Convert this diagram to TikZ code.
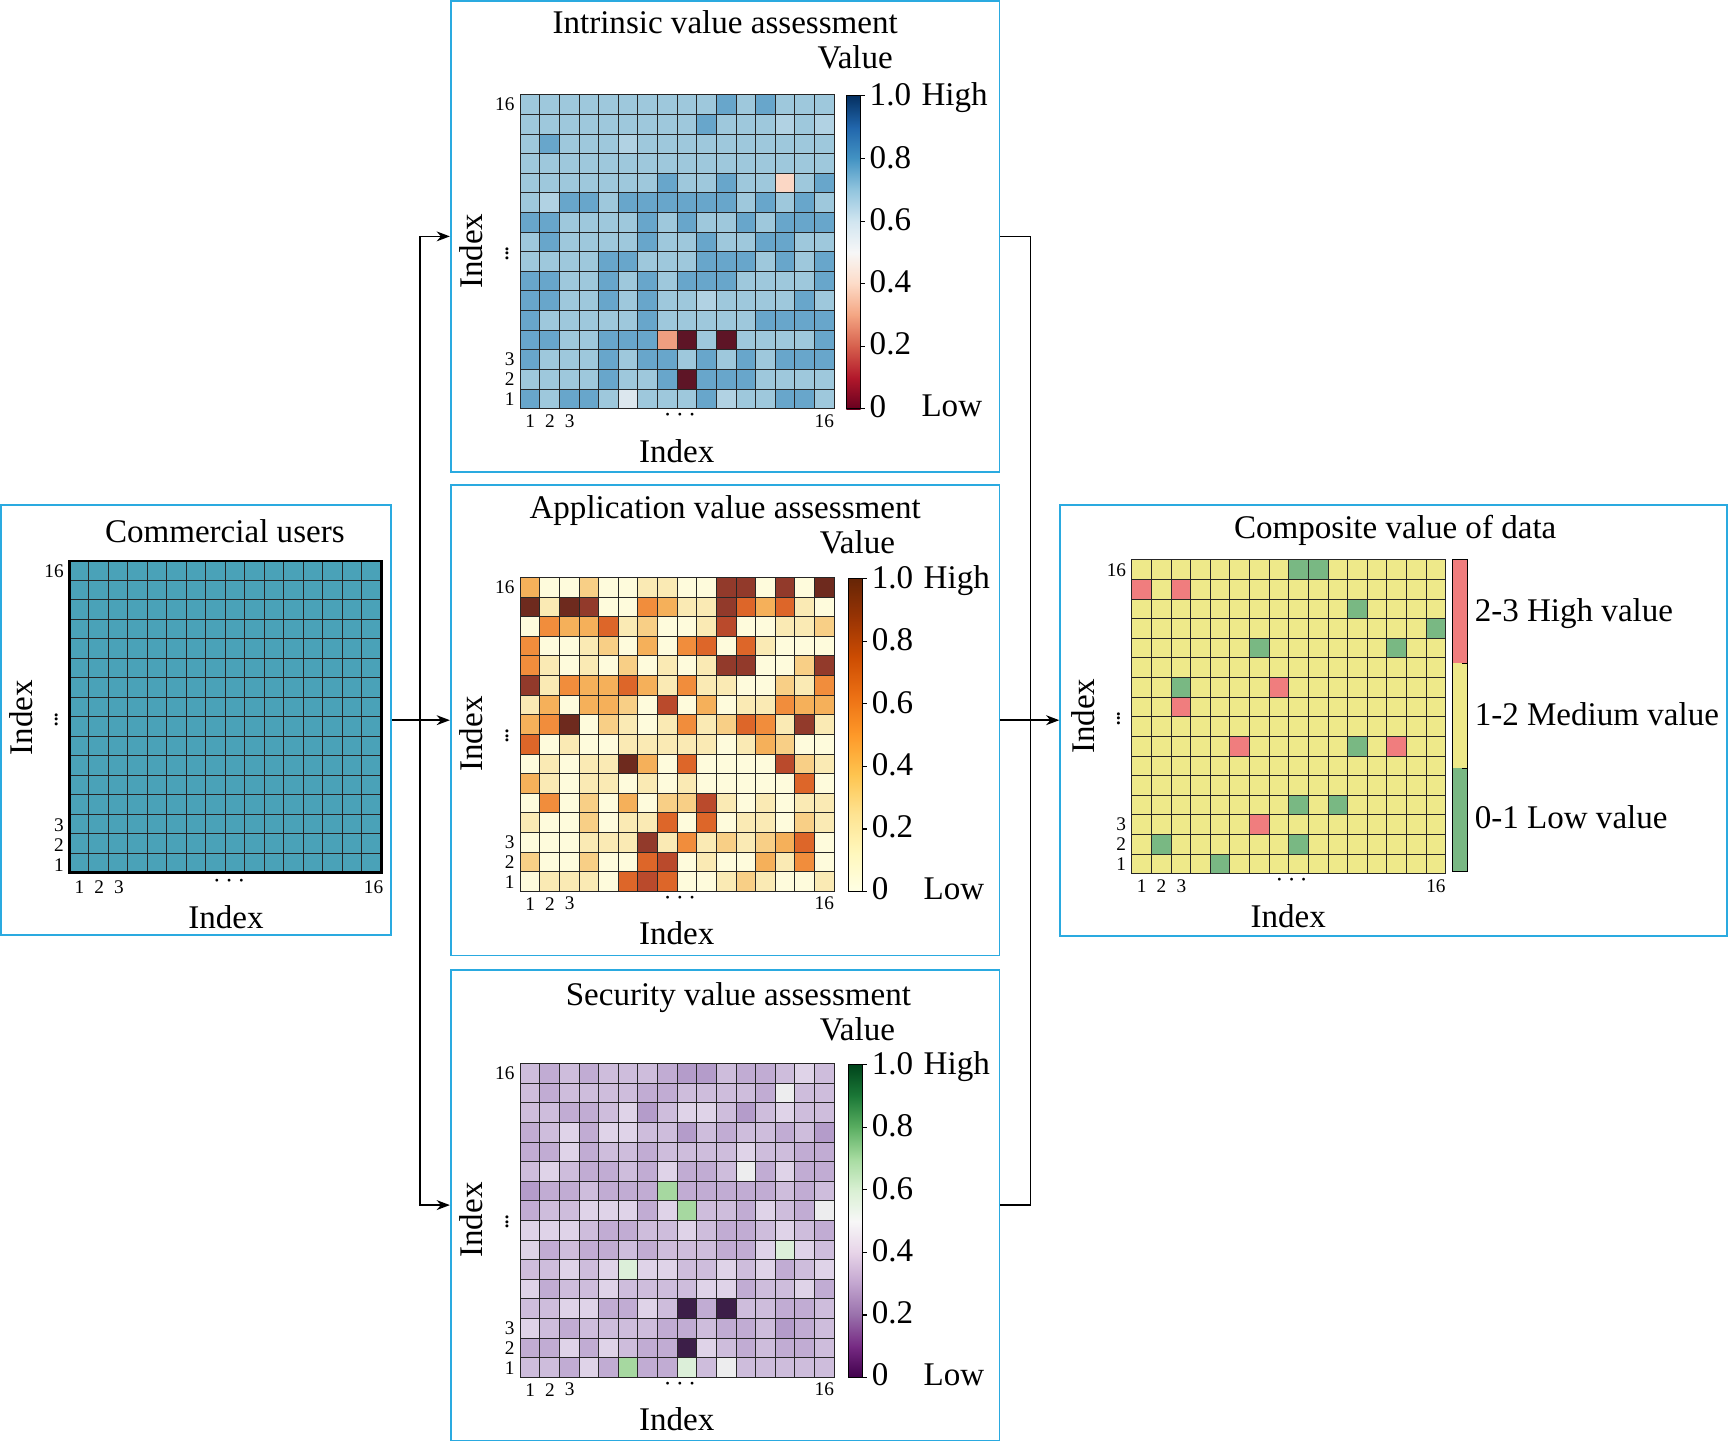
\documentclass[tikz,border=0pt]{standalone}
\usepackage{fontspec}
\setmainfont{Liberation Serif}
\usetikzlibrary{arrows.meta}

\definecolor{panelblue}{HTML}{2AAAE0}
\definecolor{commblue}{HTML}{4AA2B8}
% intrinsic cells
\definecolor{inL}{HTML}{9EC8DC}\definecolor{inM}{HTML}{68A6CB}\definecolor{inl}{HTML}{B1D2E3}
\definecolor{inW}{HTML}{DCE7EE}\definecolor{inP}{HTML}{FBD7C5}\definecolor{inO}{HTML}{EE9E80}
\definecolor{inD}{HTML}{5E1526}
% application cells
\definecolor{ap0}{HTML}{FEFBDC}\definecolor{ap1}{HTML}{FAEAB4}\definecolor{ap2}{HTML}{F8CF86}
\definecolor{ap3}{HTML}{F5B05A}\definecolor{ap4}{HTML}{F18D3C}\definecolor{ap5}{HTML}{DD6629}
\definecolor{ap6}{HTML}{BA4A2C}\definecolor{ap7}{HTML}{923A2B}\definecolor{ap8}{HTML}{6E2A1E}
% security cells
\definecolor{se0}{HTML}{DFD3E8}\definecolor{se1}{HTML}{CEBDDC}\definecolor{se2}{HTML}{C1ACD3}
\definecolor{se3}{HTML}{B49CCA}\definecolor{seW}{HTML}{EDEDEE}\definecolor{seg}{HTML}{DCEFD9}
\definecolor{seG}{HTML}{A6D8A0}\definecolor{seD}{HTML}{3C1E48}
% composite cells
\definecolor{coY}{HTML}{EEE98A}\definecolor{coR}{HTML}{F07D7E}\definecolor{coG}{HTML}{79B883}
% colour bar stops
\definecolor{rb0}{HTML}{67001F}\definecolor{rb1}{HTML}{B2182B}\definecolor{rb2}{HTML}{D6604D}
\definecolor{rb3}{HTML}{F4A582}\definecolor{rb4}{HTML}{FDDBC7}\definecolor{rb5}{HTML}{F7F7F7}
\definecolor{rb6}{HTML}{D1E5F0}\definecolor{rb7}{HTML}{92C5DE}\definecolor{rb8}{HTML}{4393C3}
\definecolor{rb9}{HTML}{2166AC}\definecolor{rb10}{HTML}{053061}
\definecolor{yb0}{HTML}{FFFFE5}\definecolor{yb1}{HTML}{FFF7BC}\definecolor{yb2}{HTML}{FEE391}
\definecolor{yb3}{HTML}{FEC44F}\definecolor{yb4}{HTML}{FE9929}\definecolor{yb5}{HTML}{EC7014}
\definecolor{yb6}{HTML}{CC4C02}\definecolor{yb7}{HTML}{993404}\definecolor{yb8}{HTML}{662506}
\definecolor{pg0}{HTML}{40004B}\definecolor{pg1}{HTML}{762A83}\definecolor{pg2}{HTML}{9970AB}
\definecolor{pg3}{HTML}{C2A5CF}\definecolor{pg4}{HTML}{E7D4E8}\definecolor{pg5}{HTML}{F7F7F7}
\definecolor{pg6}{HTML}{D9F0D3}\definecolor{pg7}{HTML}{A6DBA0}\definecolor{pg8}{HTML}{5AAE61}
\definecolor{pg9}{HTML}{1B7837}\definecolor{pg10}{HTML}{00441B}

% 16x16 heat map: top-left x, top-left y, colour prefix, rows (top row first)
\newcommand{\heatmap}[4]{%
  \foreach \hrow [count=\hr] in {#4} {
    \foreach \hc [count=\hk] in \hrow {
      \filldraw[cell, fill=#3\hc] ({#1+(\hk-1)*17.8},{#2+(\hr-1)*17.8}) rectangle ++(17.8,17.8);
    }
  }
}
% tick labels round a grid whose top-left corner is (#1,#2)
\newcommand{\gridticks}[2]{%
  \node[ticklab, anchor=east] at (#1-5,#2+9) {16};
  \node[dotlab] at (#1-12,#2+141) {$\vdots$};
  \node[ticklab, anchor=east] at (#1-5,#2+240) {3};
  \node[ticklab, anchor=east] at (#1-5,#2+258) {2};
  \node[ticklab, anchor=east] at (#1-5,#2+276) {1};
  \node[ticklab] at (#1+9,#2+296) {1};
  \node[ticklab] at (#1+27,#2+296) {2};
  \node[ticklab] at (#1+45,#2+296) {3};
  \node[dotlab] at (#1+145,#2+291) {$\cdots$};
  \node[ticklab] at (#1+276,#2+296) {16};
  \node[axlab] at (#1+142,#2+323) {Index};
  \node[axlab, rotate=90] at (#1-44,#2+142) {Index};
}
% colour bar: x, top y, number of segments, colour pairs (low to high)
\newcommand{\cbar}[4]{%
  \foreach \ca/\cb [count=\ci] in {#4} {
    \shade[bottom color=\ca, top color=\cb] (#1,{#2+284-\ci*284/#3}) rectangle (#1+13,{#2+284-(\ci-1)*284/#3+0.3});
  }
  \draw[cbframe] (#1,#2) rectangle (#1+13,#2+284);
  \foreach \v [count=\k from 0] in {1.0,0.8,0.6,0.4,0.2,0} {
    \draw[cbframe] (#1+13,#2+\k*56.8) -- ++(4,0);
    \node[cblab, anchor=west] at (#1+21,#2-1+\k*56.5) {\v};
  }
  \node[cblab, anchor=west] at (#1+68,#2-1) {High};
  \node[cblab, anchor=west] at (#1+68,#2+281) {Low};
}

\begin{document}
\begin{tikzpicture}[x=1pt, y=-1pt,
    panel/.style={draw=panelblue, line width=1.6pt, inner sep=0pt},
    cell/.style={draw=black!85, line width=0.8pt},
    heading/.style={font=\fontsize{30}{34}\selectfont, inner sep=0pt},
    axlab/.style={font=\fontsize{30}{34}\selectfont, inner sep=0pt},
    ticklab/.style={font=\fontsize{17.5}{20}\selectfont, inner sep=0pt},
    dotlab/.style={font=\fontsize{23}{26}\selectfont, inner sep=0pt},
    cblab/.style={font=\fontsize{30}{34}\selectfont, inner sep=0pt, text height=20pt, text depth=0pt},
    cbframe/.style={draw=black, line width=1pt},
    arrow/.style={-{Stealth[length=12pt, width=9pt]}, line width=1.3pt},
    link/.style={line width=1.3pt}
  ]
  \useasboundingbox (0,0) rectangle (1568,1308);

  % panels
  \node[panel, minimum width=354pt, minimum height=390pt] (users) at (178,653.5) {};
  \node[panel, minimum width=498pt, minimum height=427pt] (intr) at (658,214.5) {};
  \node[panel, minimum width=498pt, minimum height=427pt] (appl) at (658,653.5) {};
  \node[panel, minimum width=498pt, minimum height=427pt] (secu) at (658,1093.5) {};
  \node[panel, minimum width=605pt, minimum height=391pt] (comp) at (1264.5,653.5) {};

  % commercial users
  \node[heading] at (204,482) {Commercial users};
  \fill[commblue] (63,509) rectangle (346,792);
  \foreach \i in {1,...,15} {
    \draw[cell] (63+\i*17.69,509) -- (63+\i*17.69,792);
    \draw[cell] (63,509+\i*17.69) -- (346,509+\i*17.69);
  }
  \draw[line width=2.6pt] (63,509) rectangle (346,792);
  \gridticks{63}{509}

  % intrinsic value
  \node[heading] at (658,20) {Intrinsic value assessment};
  \node[heading] at (776,52) {Value};
  \heatmap{472}{86}{in}{
    {L,L,L,L,L,L,L,L,L,L,M,L,M,L,L,L},
    {L,L,L,L,L,L,L,L,L,M,L,L,L,l,L,l},
    {L,M,L,L,L,l,L,L,L,L,L,L,L,L,L,L},
    {L,L,L,L,L,L,L,L,L,L,L,L,L,L,L,L},
    {L,L,L,L,L,L,L,M,L,L,M,L,L,P,L,M},
    {L,l,M,M,L,M,M,M,M,M,M,L,M,L,M,L},
    {M,M,L,L,L,L,M,L,M,L,L,M,L,M,M,M},
    {L,M,L,L,L,L,M,L,L,M,L,L,M,M,L,L},
    {L,L,L,L,M,M,L,L,L,M,M,M,L,M,L,M},
    {M,M,L,L,M,L,M,L,M,M,M,L,L,L,L,M},
    {M,M,L,L,M,L,M,L,L,l,L,L,L,L,M,L},
    {M,L,L,L,L,L,M,L,L,L,L,L,M,M,M,M},
    {M,M,L,L,M,M,M,O,D,L,D,L,L,L,L,M},
    {M,L,L,L,M,L,M,M,L,M,L,M,L,M,M,M},
    {L,L,L,L,M,L,L,M,D,M,M,M,L,L,L,L},
    {M,L,M,M,L,W,L,L,L,M,l,L,L,M,M,L}}
  \gridticks{472}{86}
  \cbar{768}{87}{10}{rb0/rb1,rb1/rb2,rb2/rb3,rb3/rb4,rb4/rb5,rb5/rb6,rb6/rb7,rb7/rb8,rb8/rb9,rb9/rb10}

  % application value
  \node[heading] at (658,463) {Application value assessment};
  \node[heading] at (778,492) {Value};
  \heatmap{472}{524}{ap}{
    {3,0,0,2,0,0,1,1,0,0,7,7,0,7,0,8},
    {8,1,8,7,0,0,4,3,1,1,7,5,3,5,1,0},
    {0,4,3,3,5,1,2,0,0,1,6,0,0,1,1,2},
    {4,0,0,1,2,0,3,0,4,5,0,5,1,0,0,0},
    {4,1,0,1,0,2,0,1,0,1,7,7,0,0,2,7},
    {7,1,4,3,3,5,3,1,4,1,1,0,0,2,1,4},
    {1,3,0,3,3,2,0,6,0,3,0,1,1,4,3,3},
    {3,4,8,0,2,1,0,1,4,1,2,5,4,1,7,1},
    {5,0,1,0,0,1,1,1,1,1,0,1,3,2,0,0},
    {0,1,0,1,1,8,3,0,5,0,0,0,0,6,2,1},
    {3,1,0,1,1,0,1,0,1,0,0,0,0,0,5,0},
    {0,4,0,2,0,3,0,2,2,6,1,0,1,0,1,1},
    {1,0,0,2,0,1,1,5,0,5,0,1,1,0,2,1},
    {0,0,0,1,1,1,7,1,4,1,2,1,2,3,5,0},
    {2,0,0,2,0,0,5,6,0,1,0,0,3,1,4,0},
    {0,1,1,1,0,5,6,5,0,0,1,2,1,0,0,1}}
  \gridticks{472}{524}
  \cbar{770}{525}{8}{yb0/yb1,yb1/yb2,yb2/yb3,yb3/yb4,yb4/yb5,yb5/yb6,yb6/yb7,yb7/yb8}

  % security value
  \node[heading] at (670,905) {Security value assessment};
  \node[heading] at (778,934) {Value};
  \heatmap{472}{965}{se}{
    {1,2,1,2,1,1,1,2,3,3,1,2,2,1,0,1},
    {1,2,1,1,1,1,2,2,1,1,1,1,2,W,1,1},
    {1,1,2,2,1,0,3,1,0,0,1,3,1,0,1,1},
    {2,1,0,2,0,0,1,1,3,1,2,1,1,2,1,3},
    {2,2,0,2,1,1,2,1,1,1,1,0,1,1,2,2},
    {1,0,1,2,2,1,2,0,2,2,1,W,2,0,2,2},
    {3,2,2,1,2,2,2,G,2,2,2,2,2,1,2,1},
    {2,1,1,0,0,0,2,0,G,1,1,2,0,1,2,W},
    {0,0,0,1,2,2,1,1,0,1,2,2,1,0,1,2},
    {0,2,1,2,2,1,2,1,1,1,2,2,0,g,0,1},
    {1,1,0,1,0,g,0,0,1,1,0,1,0,2,1,0},
    {0,2,1,1,0,1,1,1,1,0,0,2,1,1,0,2},
    {1,1,0,0,2,2,0,1,D,2,D,1,1,2,2,1},
    {0,1,2,1,1,1,1,2,2,1,2,2,1,3,2,1},
    {2,2,0,2,0,1,2,2,D,0,1,2,1,2,2,1},
    {1,1,2,0,2,G,2,2,g,1,W,1,1,1,1,1}}
  \gridticks{472}{965}
  \cbar{770}{966}{10}{pg0/pg1,pg1/pg2,pg2/pg3,pg3/pg4,pg4/pg5,pg5/pg6,pg6/pg7,pg7/pg8,pg8/pg9,pg9/pg10}

  % composite value
  \node[heading] at (1266,481) {Composite value of data};
  \heatmap{1027}{508}{co}{
    {Y,Y,Y,Y,Y,Y,Y,Y,G,G,Y,Y,Y,Y,Y,Y},
    {R,Y,R,Y,Y,Y,Y,Y,Y,Y,Y,Y,Y,Y,Y,Y},
    {Y,Y,Y,Y,Y,Y,Y,Y,Y,Y,Y,G,Y,Y,Y,Y},
    {Y,Y,Y,Y,Y,Y,Y,Y,Y,Y,Y,Y,Y,Y,Y,G},
    {Y,Y,Y,Y,Y,Y,G,Y,Y,Y,Y,Y,Y,G,Y,Y},
    {Y,Y,Y,Y,Y,Y,Y,Y,Y,Y,Y,Y,Y,Y,Y,Y},
    {Y,Y,G,Y,Y,Y,Y,R,Y,Y,Y,Y,Y,Y,Y,Y},
    {Y,Y,R,Y,Y,Y,Y,Y,Y,Y,Y,Y,Y,Y,Y,Y},
    {Y,Y,Y,Y,Y,Y,Y,Y,Y,Y,Y,Y,Y,Y,Y,Y},
    {Y,Y,Y,Y,Y,R,Y,Y,Y,Y,Y,G,Y,R,Y,Y},
    {Y,Y,Y,Y,Y,Y,Y,Y,Y,Y,Y,Y,Y,Y,Y,Y},
    {Y,Y,Y,Y,Y,Y,Y,Y,Y,Y,Y,Y,Y,Y,Y,Y},
    {Y,Y,Y,Y,Y,Y,Y,Y,G,Y,G,Y,Y,Y,Y,Y},
    {Y,Y,Y,Y,Y,Y,R,Y,Y,Y,Y,Y,Y,Y,Y,Y},
    {Y,G,Y,Y,Y,Y,Y,Y,G,Y,Y,Y,Y,Y,Y,Y},
    {Y,Y,Y,Y,G,Y,Y,Y,Y,Y,Y,Y,Y,Y,Y,Y}}
  \gridticks{1027}{508}
  \fill[coR] (1318,508) rectangle (1332,602);
  \fill[coY] (1318,602) rectangle (1332,697);
  \fill[coG] (1318,697) rectangle (1332,791);
  \draw[cbframe] (1318,508) rectangle (1332,791);
  \draw[cbframe] (1327,602) -- (1332,602);
  \draw[cbframe] (1327,697) -- (1332,697);
  \node[cblab, anchor=west] at (1338,554) {2-3 High value};
  \node[cblab, anchor=west] at (1338,648) {1-2 Medium value};
  \node[cblab, anchor=west] at (1338,742) {0-1 Low value};

  % connectors
  \coordinate (split) at (381,653.5);
  \coordinate (merge) at (935,653.5);
  \draw[arrow] (users.east) -- (appl.west);
  \draw[arrow] (split) |- (intr.west);
  \draw[arrow] (split) |- (secu.west);
  \draw[link] (intr.east) -| (merge);
  \draw[link] (secu.east) -| (merge);
  \draw[arrow] (appl.east) -- (comp.west);
\end{tikzpicture}
\end{document}
